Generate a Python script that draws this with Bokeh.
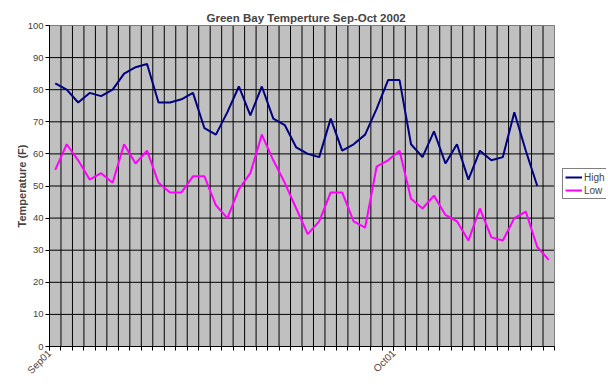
import math
from bokeh.plotting import figure
from bokeh.models import FixedTicker, Range1d, Legend, LegendItem
from bokeh.embed import file_html
from bokeh.resources import INLINE

# Days Sep 01 .. Oct 14, 2002
days = [f"Sep{d:02d}" for d in range(1, 31)] + [f"Oct{d:02d}" for d in range(1, 15)]

high = [82, 80, 76, 79, 78, 80, 85, 87, 88, 76,
        76, 77, 79, 68, 66, 73, 81, 72, 81, 71,
        69, 62, 60, 59, 71, 61, 63, 66, 74, 83,
        83, 63, 59, 67, 57, 63, 52, 61, 58, 59,
        73, 61, 50]

low = [55, 63, 58, 52, 54, 51, 63, 57, 61, 51,
       48, 48, 53, 53, 44, 40, 49, 54, 66, 58,
       51, 43, 35, 39, 48, 48, 39, 37, 56, 58,
       61, 46, 43, 47, 41, 39, 33, 43, 34, 33,
       40, 42, 31, 27]

y_ticks = [0, 10, 20, 30, 40, 50, 60, 70, 80, 90, 100]
x_tick_labels = {0: "Sep01", 30: "Oct01"}

FONT = "Liberation Sans"

n_days = len(days)
x_high = [i + 0.5 for i in range(len(high))]
x_low = [i + 0.5 for i in range(len(low))]

# layout (pixels)
W, H = 606, 384
LEFT, TOP, BOTTOM = 49, 25, 38
PLOT_W = 505                      # width of the grey plot area
frame_w = W - LEFT
x_end = n_days * frame_w / PLOT_W  # extra room on the right for the legend

p = figure(width=W, height=H, output_backend="svg", toolbar_location=None,
           x_range=Range1d(0, x_end), y_range=Range1d(0, 100),
           min_border_left=LEFT, min_border_right=0, min_border_top=TOP,
           min_border_bottom=BOTTOM)

p.background_fill_color = "white"
p.border_fill_color = "white"
p.outline_line_color = None
p.xgrid.visible = False
p.ygrid.visible = False

p.title.text = "Green Bay Temperture Sep-Oct 2002"
p.title.align = "left"
p.title.offset = 157
p.title.text_font = FONT
p.title.text_font_size = "11.5px"
p.title.text_font_style = "bold"
p.title.standoff = 4

# grey plot area + grid lines
grid_x = list(range(n_days + 1))
p.quad(left=[0], right=[n_days], bottom=[0], top=[100],
       fill_color="#C0C0C0", line_color=None)
p.segment(x0=grid_x, y0=[0] * len(grid_x), x1=grid_x, y1=[100] * len(grid_x),
          line_color="black", line_width=1)
p.segment(x0=[0] * len(y_ticks), y0=y_ticks, x1=[n_days] * len(y_ticks), y1=y_ticks,
          line_color="black", line_width=1)
p.quad(left=[0], right=[n_days], bottom=[0], top=[100],
       fill_color=None, line_color="#808080", line_width=1)

# x axis
xa = p.xaxis[0]
xa.bounds = (0, n_days)
xa.ticker = FixedTicker(ticks=list(x_tick_labels.keys()), minor_ticks=grid_x)
xa.major_label_overrides = x_tick_labels
xa.major_label_orientation = math.pi / 4
xa.major_label_text_font = FONT
xa.major_label_text_font_size = "10px"
xa.major_label_standoff = 1
xa.major_tick_in = 0
xa.major_tick_out = 4
xa.minor_tick_in = 0
xa.minor_tick_out = 4
xa.minor_tick_line_color = "black"
xa.major_tick_line_color = "black"
xa.axis_line_color = "black"

# y axis
ya = p.yaxis[0]
ya.ticker = FixedTicker(ticks=y_ticks)
ya.axis_label = "Temperature (F)"
ya.axis_label_text_font = FONT
ya.axis_label_text_font_size = "11px"
ya.axis_label_text_font_style = "bold"
ya.axis_label_standoff = -3
ya.major_label_text_font = FONT
ya.major_label_text_font_size = "9.5px"
ya.major_label_standoff = 2
ya.major_tick_in = 0
ya.major_tick_out = 4
ya.minor_tick_line_color = None
ya.axis_line_color = "black"

r_high = p.line(x_high, high, line_color="#000080", line_width=2)
r_low = p.line(x_low, low, line_color="#FF00FF", line_width=2)

legend = Legend(items=[LegendItem(label="High", renderers=[r_high]),
                       LegendItem(label="Low", renderers=[r_low])],
                location=(513, 147))
legend.border_line_color = "black"
legend.border_line_width = 1
legend.background_fill_color = "white"
legend.background_fill_alpha = 1
legend.label_text_font = FONT
legend.label_text_font_size = "10px"
legend.glyph_width = 17
legend.glyph_height = 12
legend.label_height = 12
legend.label_standoff = 2
legend.spacing = 1
legend.padding = 2
legend.margin = 0
p.add_layout(legend)

open("out.html", "w").write(file_html(p, INLINE))
